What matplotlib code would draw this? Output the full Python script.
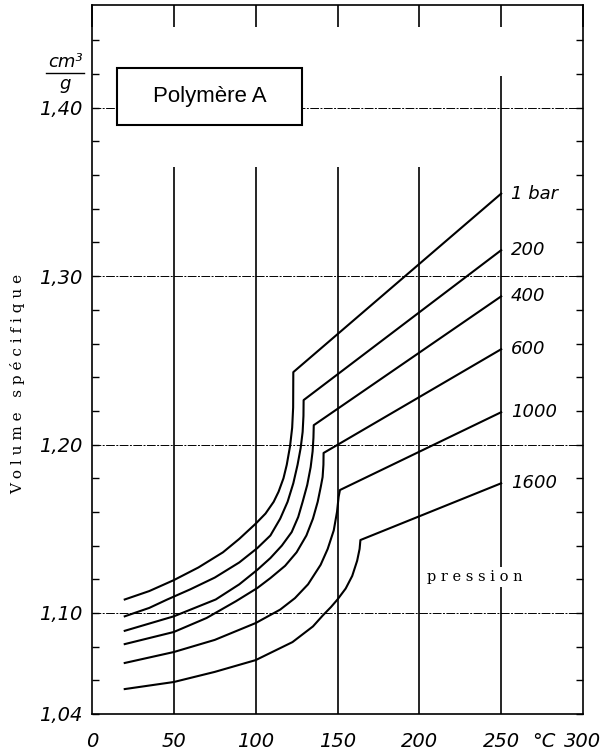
import numpy as np
import matplotlib.pyplot as plt
from matplotlib.patches import Rectangle
from matplotlib.lines import Line2D

# Isobares du volume spécifique (cm3/g) en fonction de la température (°C)
t_1bar = [20, 35, 50, 65, 80, 90, 100, 106, 111, 114, 117, 119, 121, 122.3, 122.9, 123, 250]
v_1bar = [1.108, 1.113, 1.1195, 1.127, 1.136, 1.144, 1.153, 1.159, 1.166, 1.172, 1.180,
          1.188, 1.199, 1.210, 1.222, 1.243, 1.349]

t_200 = [20, 35, 46, 60, 75, 90, 101, 109, 115, 119.5, 123, 125.6, 127.5, 128.7, 129.2, 129.3, 250]
v_200 = [1.098, 1.103, 1.108, 1.114, 1.121, 1.130, 1.1385, 1.146, 1.156, 1.166,
         1.177, 1.188, 1.198, 1.2075, 1.217, 1.2264, 1.3154]

t_400 = [20, 50, 75.6, 90, 101, 109, 116, 122, 126, 128.7, 131.5, 133.6, 134.8, 135.3, 135.5, 250]
v_400 = [1.0894, 1.098, 1.108, 1.117, 1.1256, 1.1326, 1.140, 1.148, 1.157, 1.166,
         1.176, 1.1866, 1.196, 1.204, 1.2115, 1.288]

t_600 = [20, 50, 70, 88, 101, 109, 118, 125, 131, 135, 137.9, 139.8, 140.9, 141.4, 141.5, 250]
v_600 = [1.0815, 1.0887, 1.097, 1.107, 1.1148, 1.1207, 1.128, 1.136, 1.146, 1.156,
         1.166, 1.175, 1.1807, 1.188, 1.195, 1.2566]

t_1000 = [20, 50, 75, 100, 115, 124, 132, 139.7, 144, 147.7, 149.7, 150.7, 151.5, 250]
v_1000 = [1.0703, 1.0768, 1.084, 1.094, 1.102, 1.1088, 1.117, 1.1286, 1.138, 1.149,
          1.160, 1.169, 1.173, 1.2192]

t_1600 = [20, 50, 75, 100, 122.5, 135, 141, 146, 150, 155, 159, 162, 163.5, 164, 250]
v_1600 = [1.0548, 1.059, 1.065, 1.072, 1.0827, 1.092, 1.0985, 1.1035, 1.108, 1.1145,
          1.122, 1.131, 1.138, 1.1433, 1.177]

series_labels = ["1 bar", "200", "400", "600", "1000", "1600"]
temps = [t_1bar, t_200, t_400, t_600, t_1000, t_1600]
volumes = [v_1bar, v_200, v_400, v_600, v_1000, v_1600]

x_ticks = [0, 50, 100, 150, 200, 250, 300]
x_ticklabels = ["0", "50", "100", "150", "200", "250", "300"]
y_ticks = [1.04, 1.10, 1.20, 1.30, 1.40]
y_ticklabels = ["1,04", "1,10", "1,20", "1,30", "1,40"]

grid_x = [50, 100, 150, 200, 250]
grid_x_top = [1.365, 1.365, 1.365, 1.365, 1.419]
grid_y = [1.10, 1.20, 1.30, 1.40]

W, H = 609, 756
fig = plt.figure(figsize=(W / 100, H / 100), dpi=100)
ax = fig.add_axes([92 / W, 1 - 714 / H, 491 / W, 709 / H])

# grille
for yv in grid_y:
    ax.axhline(yv, color="black", lw=0.7, ls=(0, (9, 1.5, 2, 1.5)), zorder=1)
ax.vlines(grid_x, 1.04, grid_x_top, colors="black", lw=1.2, zorder=1)

# courbes
for t, v in zip(temps, volumes):
    ax.plot(t, v, color="black", lw=1.5, zorder=3)

for lab, v in zip(series_labels, volumes):
    ax.text(256, v[-1], lab, style="italic", fontsize=13, ha="left", va="center", clip_on=False)

ax.set_xlim(0, 300)
ax.set_ylim(1.04, 1.461)

ax.set_xticks(x_ticks)
ax.set_xticklabels(x_ticklabels)
ax.set_yticks(y_ticks)
ax.set_yticklabels(y_ticklabels)
ax.set_yticks(np.arange(1.06, 1.46, 0.02), minor=True)

ax.tick_params(axis="x", bottom=False, top=True, direction="in", length=16, width=1.2,
               pad=13, labelsize=14)
ax.tick_params(axis="y", which="both", left=True, right=True, direction="in",
               length=5, width=1, pad=7, labelsize=14)
for lab in ax.get_xticklabels() + ax.get_yticklabels():
    lab.set_style("italic")

for sp in ax.spines.values():
    sp.set_linewidth(1.2)

# cartouche
ax.add_patch(Rectangle((0.051, 0.831), 0.377, 0.080, transform=ax.transAxes,
                       facecolor="white", edgecolor="black", lw=1.5, zorder=4))
ax.text(0.2395, 0.871, "Polymère A", transform=ax.transAxes, fontsize=16,
        family="Liberation Sans", ha="center", va="center", zorder=5)

ax.text(234, 1.1213, "p r e s s i o n", family="DejaVu Serif", fontsize=10.5,
        ha="center", va="center", zorder=2,
        bbox=dict(facecolor="white", edgecolor="none", pad=2))

ax.annotate("°C", xy=(276, 0), xycoords=("data", "axes fraction"), xytext=(0, -13),
            textcoords="offset points", ha="center", va="top", style="italic", fontsize=14)

# unité cm3/g
fig.text(65 / W, 1 - 62 / H, "cm³", style="italic", fontsize=13, ha="center", va="center")
fig.add_artist(Line2D([46 / W, 84 / W], [1 - 73 / H, 1 - 73 / H], color="black", lw=1))
fig.text(65 / W, 1 - 84 / H, "g", style="italic", fontsize=13, ha="center", va="center")

fig.text(18 / W, 1 - 384 / H, "V o l u m e   s p é c i f i q u e", rotation=90,
         family="DejaVu Serif", fontsize=11, ha="center", va="center")

fig.savefig("out.png", dpi=100)
